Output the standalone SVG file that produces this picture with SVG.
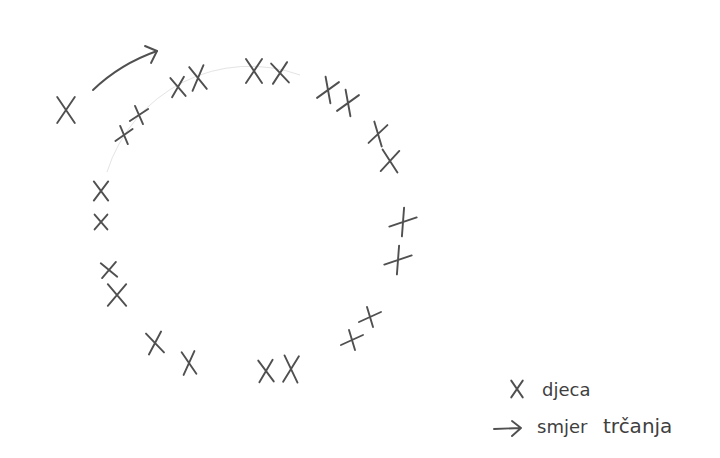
<svg xmlns="http://www.w3.org/2000/svg" xmlns:xlink="http://www.w3.org/1999/xlink" width="720" height="458" viewBox="0 0 720 458">
  <style>
    .ink { fill: none; stroke: #505050; stroke-width: 1.9; stroke-linecap: round; stroke-linejoin: round; }
    .pencil { fill: none; stroke: #e4e4e4; stroke-width: 1; }
    .lbl { font-family: "DejaVu Sans", "Liberation Sans", sans-serif; font-size: 18px; fill: #3f3f3f; }
  </style>
  <defs>
    <path id="x" class="ink" vector-effect="non-scaling-stroke" d="M-8,-12 L8,12 M8,-12 L-8,12"/>
    <path id="p" class="ink" vector-effect="non-scaling-stroke" d="M-11,5 L11,-5 M-3,-10 L3,10"/>
  </defs>
  <rect width="720" height="458" fill="#ffffff"/>

  <!-- faint pencil guide circle -->
  <path class="pencil" d="M107,172 A150,152 0 0 1 300,75"/>

  <!-- lone runner -->
  <g id="runner-out"><use href="#x" transform="translate(66,110) scale(1.1,1.08)"/></g>

  <!-- direction arrow -->
  <g id="connectors">
    <path class="ink" d="M93,90 Q120,64 157,51"/>
    <path class="ink" d="M145,46 L157,51 L151,63"/>
  </g>

  <!-- children around the circle -->
  <g id="children">
    <g id="c1"><use href="#p" transform="translate(124,135) rotate(-8) scale(0.85,0.95)"/></g>
    <g id="c2"><use href="#p" transform="translate(139,115) rotate(-8) scale(0.9,0.95)"/></g>
    <g id="c3"><use href="#x" transform="translate(178,87) rotate(-5) scale(0.85,0.8)"/></g>
    <g id="c4"><use href="#x" transform="translate(198,78) rotate(-8) scale(0.9,1)"/></g>
    <g id="c5"><use href="#x" transform="translate(254,71) scale(1,1)"/></g>
    <g id="c6"><use href="#x" transform="translate(280,73) rotate(-5) scale(1,0.85)"/></g>
    <g id="c7"><use href="#x" transform="translate(328,90) rotate(22) scale(0.9,0.95)"/></g>
    <g id="c8"><use href="#x" transform="translate(348,103) rotate(22) scale(0.9,0.95)"/></g>
    <g id="c9"><use href="#x" transform="translate(378,134) rotate(15) scale(0.85,0.92)"/></g>
    <g id="c10"><use href="#x" transform="translate(390,161) rotate(5) scale(1.05,0.9)"/></g>
    <g id="c11"><use href="#x" transform="translate(403,222) rotate(38) scale(1,1)"/></g>
    <g id="c12"><use href="#x" transform="translate(398,260) rotate(38) scale(1,1)"/></g>
    <g id="c13"><use href="#p" transform="translate(370,317)"/></g>
    <g id="c14"><use href="#p" transform="translate(352,340)"/></g>
    <g id="c15"><use href="#x" transform="translate(291,369) rotate(3) scale(0.9,1.1)"/></g>
    <g id="c16"><use href="#x" transform="translate(266,371) rotate(-3) scale(0.9,0.9)"/></g>
    <g id="c17"><use href="#x" transform="translate(189,363) rotate(-5) scale(0.8,0.95)"/></g>
    <g id="c18"><use href="#x" transform="translate(155,343) rotate(-8) scale(0.95,0.88)"/></g>
    <g id="c19"><use href="#x" transform="translate(117,295) scale(1.15,0.9)"/></g>
    <g id="c20"><use href="#x" transform="translate(109,270) rotate(-5) scale(0.95,0.62)"/></g>
    <g id="c21"><use href="#x" transform="translate(101,222) scale(0.8,0.62)"/></g>
    <g id="c22"><use href="#x" transform="translate(101,191) scale(0.9,0.8)"/></g>
  </g>

  <!-- legend -->
  <g id="legend">
    <g id="legend-x">
      <use href="#x" transform="translate(517,389) scale(0.72,0.7)"/>
      <text class="lbl" x="542" y="396">djeca</text>
    </g>
    <g id="legend-arrow">
      <path class="ink" d="M494,429 L521,428 M512,421 L521,428 L512,436"/>
      <text class="lbl" x="537" y="433">smjer</text>
      <text class="lbl" x="603" y="433" style="font-size:20px">trčanja</text>
    </g>
  </g>
</svg>
